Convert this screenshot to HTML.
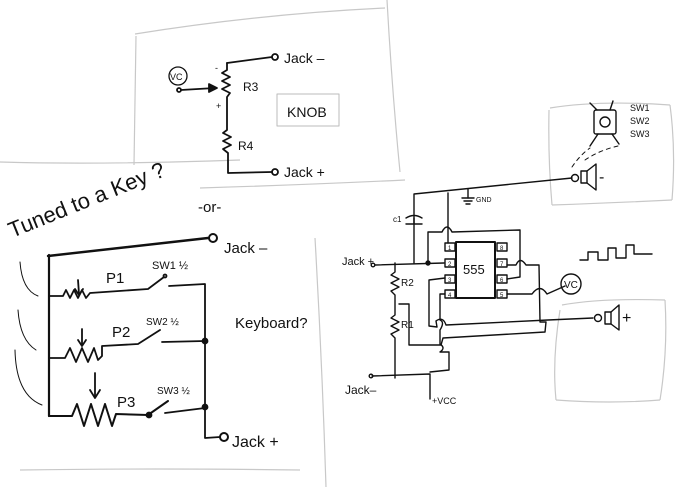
<!DOCTYPE html>
<html><head><meta charset="utf-8"><style>
html,body{margin:0;padding:0;background:#fff}
svg{display:block}
text{font-family:"Liberation Sans",sans-serif;fill:#111}
</style></head><body>
<svg width="690" height="487" viewBox="0 0 690 487" xmlns="http://www.w3.org/2000/svg">
<g fill="none" stroke="#c8c8c8" stroke-width="1.2">
<path d="M135,34 Q260,14 385,8"/><path d="M136,36 L134,165"/><path d="M387,0 Q392,90 400,172"/><path d="M200,188 Q300,185 405,180"/>
<path d="M0,162 Q100,165 240,160"/><path d="M315,238 Q322,360 326,487"/><path d="M20,470 Q150,468 300,470"/>
<path d="M550,108 Q600,100 670,105"/><path d="M549,110 Q548,160 552,205"/><path d="M670,105 Q676,150 672,200"/><path d="M552,205 Q610,203 672,200"/>
<path d="M562,305 Q600,298 665,300"/><path d="M560,310 Q552,360 556,400"/><path d="M665,300 Q668,350 660,400"/><path d="M556,400 Q610,404 660,400"/>
</g>
<g fill="none" stroke="#111" stroke-width="1.8" stroke-linecap="round" stroke-linejoin="round">
<circle cx="178" cy="76" r="9" stroke-width="1.3"/>
<circle cx="179" cy="90" r="2"/>
<path d="M181,90 L215,88"/><path d="M209,84 L217,88 L209,92 Z" fill="#111"/>
<path d="M227,63 L272,57"/><circle cx="275" cy="57" r="3"/>
<path d="M227,63 L227,70 L222,73 L230,77 L222,81 L230,85 L222,89 L230,93 L227,97 L227,130 L223,133 L231,137 L223,141 L231,145 L223,149 L228,153 L228,173 L272,172"/>
<circle cx="275" cy="172" r="3"/>
<rect x="277" y="94" width="62" height="32" stroke="#bbb" stroke-width="1"/>
<path d="M48,256 L208,238" stroke-width="2.4"/><circle cx="213" cy="238" r="4" stroke-width="2"/>
<path d="M49,255 L49,416" stroke-width="2.2"/>
<path d="M49,296 L63,296 L66,290 L70,298 L74,290 L78,298 L82,290 L86,298 L90,293 L148,289 L164,277"/><circle cx="165" cy="276" r="1.5"/>
<path d="M78,280 L79,294"/><path d="M75,289 L79,295 L83,289"/>
<path d="M169,286 L205,284 L205,405"/>
<path d="M49,358 L65,358 L70,348 L76,362 L82,348 L88,362 L94,348 L98,360 L102,356 L102,346 L138,344 L160,330"/>
<path d="M82,329 L82,345"/><path d="M78,340 L82,346 L86,340"/>
<path d="M162,342 L205,341"/><circle cx="205" cy="341" r="2.5" fill="#111"/>
<path d="M49,416 L72,416 L77,404 L84,426 L91,404 L98,426 L105,404 L112,426 L116,414 L148,415 L168,401" stroke-width="2"/>
<circle cx="149" cy="415" r="2.5" fill="#111"/>
<path d="M95,373 L95,397"/><path d="M90,390 L95,398 L100,390"/>
<path d="M165,413 L205,408"/><circle cx="205" cy="407" r="2.5" fill="#111"/>
<path d="M205,407 L205,438 L220,437"/><circle cx="224" cy="437" r="4" stroke-width="2"/>
<g stroke-width="1"><path d="M20,262 Q22,290 38,296"/><path d="M18,310 Q20,340 36,350"/><path d="M15,350 Q16,395 42,405"/></g>
<rect x="456" y="242" width="39" height="56" stroke-width="2"/>
<g stroke-width="1.4">
<rect x="445" y="243" width="10" height="8"/><rect x="445" y="259" width="10" height="8"/><rect x="445" y="275" width="10" height="8"/><rect x="445" y="290" width="10" height="8"/>
<rect x="497" y="243" width="10" height="8"/><rect x="497" y="259" width="10" height="8"/><rect x="497" y="275" width="10" height="8"/><rect x="497" y="290" width="10" height="8"/>
</g>
<g stroke-width="1.4">
<path d="M375,265 L444,263"/><circle cx="428" cy="263" r="2" fill="#111"/>
<path d="M414,263 L414,218"/><path d="M406,218 Q414,213 422,218"/><path d="M406,224 L422,224"/><path d="M414,224 L414,194 L572,178"/>
<path d="M448,193 L448,243"/>
<path d="M468,189 L468,198"/><path d="M462,198 L474,198"/><path d="M464,201 L472,201"/><path d="M466,204 L470,204"/>
<path d="M428,263 L428,232 L442,232 Q447,222 452,232 L520,230 L520,277 L507,279"/>
<path d="M507,265 L516,265 Q520,256 526,265 L539,265 L540,322 L546,322 L545,332 L443,338 L441,345 L409,345 L409,304 L399,304"/>
<path d="M507,294 L532,294 Q540,283 547,294 L565,286"/>
<path d="M445,278 L429,280 L429,326 L437,327 L436,321 Q443,316 446,325 L548,320 L593,318"/>
<path d="M445,294 L440,294 L440,320 Q445,322 440,330 L440,344 Q446,348 440,352 L449,352 L449,370 L430,372"/>
<path d="M395,263 L395,272 L391,275 L399,279 L391,283 L399,287 L391,291 L395,295 L395,315 L391,318 L399,322 L391,326 L399,330 L391,334 L395,338 L395,378"/>
<path d="M372,376 L430,374 L430,399"/>
<circle cx="373" cy="265" r="1.8"/><circle cx="371" cy="376" r="1.8"/>
<circle cx="575" cy="178" r="3.5"/><rect x="581" y="171" width="6" height="12"/><path d="M587,171 L596,164 L596,190 L587,183"/>
<circle cx="598" cy="318" r="3.5"/><rect x="605" y="312" width="6" height="12"/><path d="M611,312 L619,305 L619,330 L611,324"/>
<circle cx="571" cy="284" r="10"/>
<path d="M580,260 L588,260 L588,252 L598,252 L598,260 L608,260 L608,248 L616,248 L616,258 L626,258 L626,245 L634,245 L634,254 L652,254"/>
<rect x="594" y="110" width="22" height="24" rx="2"/><circle cx="605" cy="122" r="5"/>
<path d="M597,110 L590,103"/><path d="M610,110 L613,101"/><path d="M598,134 L590,146"/><path d="M612,134 L619,144"/>
<path d="M572,167 Q580,155 590,148" stroke-dasharray="4 4" stroke-width="1"/><path d="M585,160 Q600,150 618,146" stroke-dasharray="4 4" stroke-width="1"/>
</g>
</g>
<g font-size="14">
<text x="284" y="63">Jack –</text><text x="284" y="177">Jack +</text>
<text x="243" y="91" font-size="12">R3</text><text x="238" y="150" font-size="12">R4</text>
<text x="170" y="80" font-size="9">VC</text>
<text x="215" y="71" font-size="9">-</text><text x="216" y="109" font-size="9">+</text>
<text x="287" y="117" font-size="14" fill="#222">KNOB</text>
<text x="12" y="238" font-size="22" transform="rotate(-22 12 238)">Tuned to a Key ?</text>
<text x="198" y="212" font-size="15">-or-</text>
<text x="224" y="253" font-size="15">Jack –</text>
<text x="106" y="283" font-size="15">P1</text><text x="152" y="269" font-size="11">SW1 ½</text>
<text x="112" y="337" font-size="15">P2</text><text x="146" y="325" font-size="10">SW2 ½</text>
<text x="117" y="407" font-size="15">P3</text><text x="157" y="394" font-size="10">SW3 ½</text>
<text x="232" y="447" font-size="16">Jack +</text>
<text x="235" y="328" font-size="15">Keyboard?</text>
<text x="342" y="265" font-size="11">Jack +</text><text x="345" y="394" font-size="12">Jack–</text>
<text x="401" y="286" font-size="10">R2</text><text x="401" y="328" font-size="10">R1</text>
<text x="393" y="222" font-size="8">c1</text><text x="476" y="202" font-size="7">GND</text>
<text x="432" y="404" font-size="9">+VCC</text>
<text x="463" y="274" font-size="13">555</text>
<g font-size="6"><text x="448" y="250">1</text><text x="448" y="266">2</text><text x="448" y="282">3</text><text x="448" y="297">4</text><text x="500" y="250">8</text><text x="500" y="266">7</text><text x="500" y="282">6</text><text x="500" y="297">5</text></g>
<text x="564" y="288" font-size="10">VC</text>
<text x="599" y="182" font-size="16">-</text><text x="622" y="323" font-size="16">+</text>
<g font-size="9"><text x="630" y="111">SW1</text><text x="630" y="124">SW2</text><text x="630" y="137">SW3</text></g>
</g>
</svg>
</body></html>
